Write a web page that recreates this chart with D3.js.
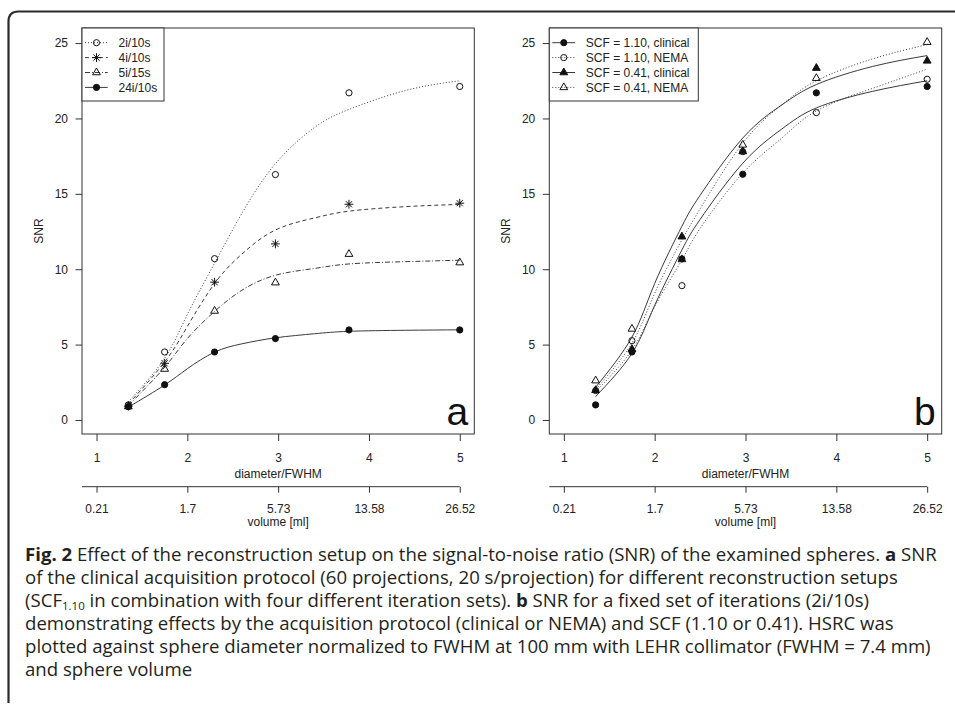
<!DOCTYPE html>
<html>
<head>
<meta charset="utf-8">
<script src="https://cdn.jsdelivr.net/npm/d3@7"></script>
<style>
  body { margin: 0; background: #fff; }
  svg { display: block; font-family: "Liberation Sans", Arial, sans-serif; }
  .caption { font-family: "Open Sans", sans-serif; fill: #231f20; }
</style>
</head>
<body>
<script>

// ---------- data ----------
// sphere diameters normalised to FWHM (x position of the measured points)
var diameterX = [1.35, 1.75, 2.30, 2.97, 3.78, 5.00];
var diameterTicks = [1, 2, 3, 4, 5];
var volumeTickLabels = ["0.21", "1.7", "5.73", "13.58", "26.52"];
var snrTicks = [0, 5, 10, 15, 20, 25];

// panel a : measured SNR
var snr2i10s  = [1.00, 4.51, 10.70, 16.28, 21.70, 22.12];
var snr4i10s  = [0.92, 3.76,  9.14, 11.68, 14.31, 14.38];
var snr5i15s  = [0.90, 3.38,  7.23,  9.11, 11.00, 10.44];
var snr24i10s = [0.88, 2.34,  4.51,  5.40,  5.97,  5.97];

// panel a : fitted curves
var fitXa      = [1.35, 1.75, 2.0, 2.3, 2.6, 2.97, 3.4, 3.78, 4.4, 5.0];
var fit2i10s   = [1.20, 4.10, 7.00, 10.40, 13.70, 17.00, 19.40, 20.60, 21.85, 22.50];
var fit4i10s   = [1.05, 3.85, 6.20,  9.05, 11.00, 12.60, 13.40, 13.85, 14.15, 14.30];
var fit5i15s   = [0.95, 3.50, 5.40,  7.20,  8.60,  9.60, 10.05, 10.35, 10.50, 10.60];
var fit24i10s  = [0.85, 2.32, 3.40,  4.50,  5.05,  5.45,  5.72,  5.88,  5.95,  5.98];

// panel b : measured SNR
var snr110Clin = [1.00, 4.51, 10.68, 16.30, 21.70, 22.12];
var snr110Nema = [1.95, 5.26,  8.91, 17.80, 20.39, 22.60];
var snr041Clin = [1.97, 4.69, 12.16, 17.81, 23.34, 23.82];
var snr041Nema = [2.61, 6.04, 10.65, 18.25, 22.67, 25.06];

// panel b : fitted curves
var fitXb      = [1.35, 1.75, 2.0, 2.3, 2.5, 2.97, 3.4, 3.78, 4.4, 5.0];
var fit110Clin = [1.55, 4.42, 7.60, 11.28, 13.30, 17.03, 19.30, 20.70, 21.80, 22.50];
var fit110Nema = [1.88, 4.64, 7.52, 10.62, 12.70, 16.37, 18.70, 20.50, 22.00, 23.27];
var fit041Clin = [2.17, 5.50, 9.05, 12.85, 14.90, 18.70, 20.90, 22.25, 23.45, 24.17];
var fit041Nema = [2.03, 5.10, 8.40, 11.95, 14.00, 18.36, 20.90, 22.50, 23.95, 24.90];

var width = 955, height = 705;

var svg = d3.select("body").append("svg")
    .attr("width", width)
    .attr("height", height);

/************* outer frame ***************/
svg.append("path")
    .attr("d", "M8.5,703 V21.5 Q8.5,11.5 18.5,11.5 H955")
    .attr("fill", "none")
    .attr("stroke", "#2a2a2a")
    .attr("stroke-width", 2.2);

/************* marker shapes (R pch look) ***************/
function markerPath(type, s) {
    if (type == "circle")
        return "M" + s + ",0A" + s + "," + s + " 0 1,1 " + (-s) + ",0A" + s + "," + s + " 0 1,1 " + s + ",0Z";
    if (type == "triangle") {
        var r = 1.555 * s, yc = 0.778 * s, hw = 1.347 * s;
        return "M0," + (-r) + "L" + hw + "," + yc + "L" + (-hw) + "," + yc + "Z";
    }
    if (type == "asterisk") {
        var p = 1.414 * s;
        return "M" + (-p) + ",0H" + p + "M0," + (-p) + "V" + p +
               "M" + (-s) + "," + (-s) + "L" + s + "," + s +
               "M" + (-s) + "," + s + "L" + s + "," + (-s);
    }
}

function drawMarker(g, type, filled, x, y) {
    g.append("path")
        .attr("d", markerPath(type, type == "triangle" ? 2.9 : 3.1))
        .attr("transform", "translate(" + x + "," + y + ")")
        .attr("fill", filled ? "#111" : "none")
        .attr("stroke", "#111")
        .attr("stroke-width", 1);
}

/************* one panel ***************/
function drawPanel(cfg) {
    var x = d3.scaleLinear().domain([0.84, 5.16]).range([cfg.left, cfg.right]);
    var y = d3.scaleLinear().domain([-0.93, 26.0]).range([434, 28]);

    var g = svg.append("g").attr("class", "panel");

    // fitted curves
    var line = d3.line()
        .x(function(d) { return x(d[0]); })
        .y(function(d) { return y(d[1]); })
        .curve(d3.curveNatural);

    cfg.series.forEach(function(s) {
        g.append("path")
            .datum(d3.zip(cfg.fitX, s.fit))
            .attr("d", line)
            .attr("fill", "none")
            .attr("stroke", "#3a3a3a")
            .attr("stroke-width", 1)
            .attr("stroke-dasharray", s.dash);
    });

    // measured points
    cfg.series.forEach(function(s) {
        s.values.forEach(function(v, i) {
            drawMarker(g, s.marker, s.filled, x(diameterX[i]), y(v));
        });
    });

    // box
    g.append("rect")
        .attr("x", cfg.left).attr("y", 28)
        .attr("width", cfg.right - cfg.left).attr("height", 434 - 28)
        .attr("fill", "none")
        .attr("stroke", "#333")
        .attr("stroke-width", 1);

    // y axis
    var yAxis = g.append("g")
        .attr("transform", "translate(" + cfg.left + ",0)")
        .call(d3.axisLeft(y).tickValues(snrTicks).tickSize(6.5).tickPadding(7.5));
    // x axis (diameter/FWHM)
    var xAxis = g.append("g")
        .attr("transform", "translate(0,434)")
        .call(d3.axisBottom(x).tickValues(diameterTicks).tickFormat(d3.format("d"))
              .tickSize(7).tickPadding(12));
    // second x axis (volume)
    var vAxis = g.append("g")
        .attr("transform", "translate(0,486.7)")
        .call(d3.axisBottom(x).tickValues(diameterTicks)
              .tickFormat(function(d, i) { return volumeTickLabels[i]; })
              .tickSize(6).tickPadding(11.3));
    vAxis.append("line")
        .attr("x1", cfg.left).attr("x2", x(diameterTicks[diameterTicks.length - 1]))
        .attr("stroke", "#333");

    [yAxis, xAxis, vAxis].forEach(function(a) {
        a.select(".domain").remove();
        a.selectAll(".tick line").attr("stroke", "#333");
        a.selectAll("text").attr("fill", "#222").style("font-size", "12px")
            .style("font-family", "'Liberation Sans', Arial, sans-serif");
    });

    // axis titles
    g.append("text")
        .attr("x", (cfg.left + cfg.right) / 2).attr("y", 477.5)
        .attr("text-anchor", "middle").attr("fill", "#222").style("font-size", "12px")
        .text("diameter/FWHM");
    g.append("text")
        .attr("x", (cfg.left + cfg.right) / 2).attr("y", 525.5)
        .attr("text-anchor", "middle").attr("fill", "#222").style("font-size", "12px")
        .text("volume [ml]");
    g.append("text")
        .attr("transform", "translate(" + (cfg.left - 39.5) + "," + 231 + ") rotate(-90)")
        .attr("text-anchor", "middle").attr("fill", "#222").style("font-size", "12px")
        .text("SNR");

    // panel letter
    g.append("text")
        .attr("x", cfg.right - 6).attr("y", 425)
        .attr("text-anchor", "end").attr("fill", "#111").style("font-size", "39px")
        .text(cfg.letter);

    // legend
    var leg = g.append("g").attr("class", "legend");
    leg.append("rect")
        .attr("x", cfg.left).attr("y", 28)
        .attr("width", cfg.legendWidth).attr("height", 73)
        .attr("fill", "#fff").attr("stroke", "#333").attr("stroke-width", 1);
    cfg.series.forEach(function(s, i) {
        var ly = 42.7 + i * 14.9;
        leg.append("line")
            .attr("x1", cfg.left + 3).attr("x2", cfg.left + 25.7)
            .attr("y1", ly).attr("y2", ly)
            .attr("stroke", "#3a3a3a").attr("stroke-dasharray", s.dash);
        drawMarker(leg, s.marker, s.filled, cfg.left + 14.5, ly);
        leg.append("text")
            .attr("x", cfg.left + 36.5).attr("y", ly + 4.3)
            .attr("fill", "#222").style("font-size", "12px")
            .text(s.name);
    });
}

drawPanel({
    left: 82, right: 474.3, letter: "a", legendWidth: 82,
    fitX: fitXa,
    series: [
        {name: "2i/10s",  values: snr2i10s,  fit: fit2i10s,  marker: "circle",   filled: false, dash: "1,2"},
        {name: "4i/10s",  values: snr4i10s,  fit: fit4i10s,  marker: "asterisk", filled: false, dash: "4,3"},
        {name: "5i/15s",  values: snr5i15s,  fit: fit5i15s,  marker: "triangle", filled: false, dash: "5,2,1,2"},
        {name: "24i/10s", values: snr24i10s, fit: fit24i10s, marker: "circle",   filled: true,  dash: null}
    ]
});

drawPanel({
    left: 549.3, right: 941.7, letter: "b", legendWidth: 149,
    fitX: fitXb,
    series: [
        {name: "SCF = 1.10, clinical", values: snr110Clin, fit: fit110Clin, marker: "circle",   filled: true,  dash: null},
        {name: "SCF = 1.10, NEMA",     values: snr110Nema, fit: fit110Nema, marker: "circle",   filled: false, dash: "1,2"},
        {name: "SCF = 0.41, clinical", values: snr041Clin, fit: fit041Clin, marker: "triangle", filled: true,  dash: null},
        {name: "SCF = 0.41, NEMA",     values: snr041Nema, fit: fit041Nema, marker: "triangle", filled: false, dash: "1,2"}
    ]
});

/************* caption ***************/
var captionLines = [
    [{t: "Fig. 2", b: true}, {t: " Effect of the reconstruction setup on the signal-to-noise ratio (SNR) of the examined spheres. "}, {t: "a", b: true}, {t: " SNR"}],
    [{t: "of the clinical acquisition protocol (60 projections, 20 s/projection) for different reconstruction setups"}],
    [{t: "(SCF"}, {t: "1.10", sub: true}, {t: " in combination with four different iteration sets). "}, {t: "b", b: true}, {t: " SNR for a fixed set of iterations (2i/10s)"}],
    [{t: "demonstrating effects by the acquisition protocol (clinical or NEMA) and SCF (1.10 or 0.41). HSRC was"}],
    [{t: "plotted against sphere diameter normalized to FWHM at 100 mm with LEHR collimator (FWHM = 7.4 mm)"}],
    [{t: "and sphere volume"}]
];

var cap = svg.append("g").attr("class", "caption");
captionLines.forEach(function(parts, i) {
    var txt = cap.append("text")
        .attr("x", 25).attr("y", 561 + i * 23)
        .style("font-size", "18.6px");
    var shifted = false;
    parts.forEach(function(p) {
        var ts = txt.append("tspan").text(p.t);
        if (p.b) ts.style("font-weight", "bold");
        if (p.sub) { ts.style("font-size", "11.5px").attr("dy", 2.5); shifted = true; }
        else if (shifted) { ts.attr("dy", -2.5); shifted = false; }
    });
});

</script>
</body>
</html>
